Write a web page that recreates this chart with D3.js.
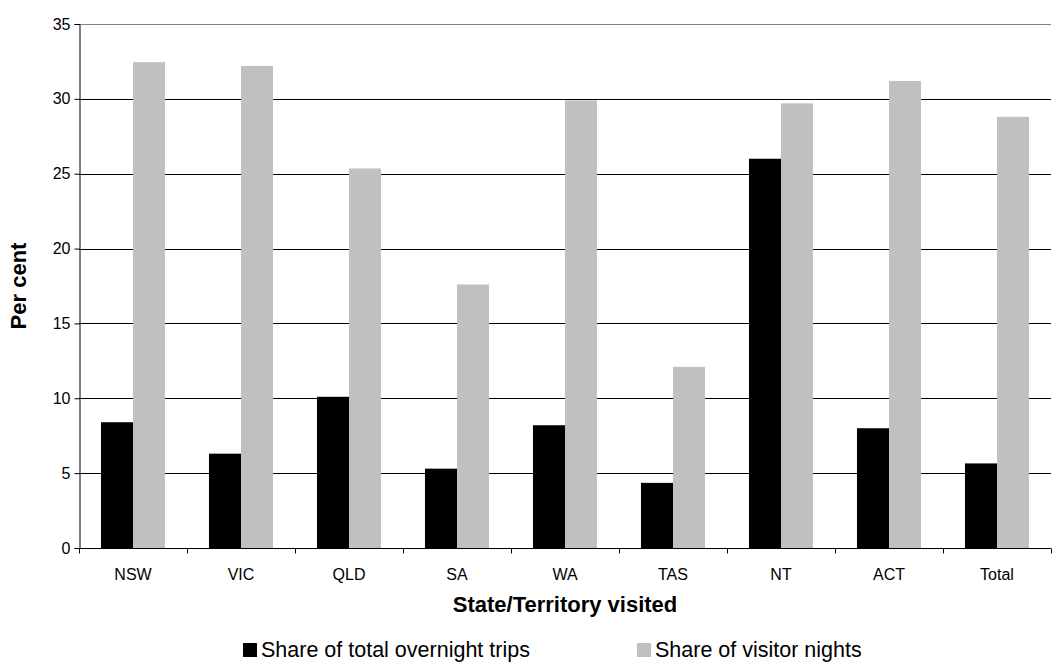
<!DOCTYPE html>
<html>
<head>
<meta charset="utf-8">
<script src="https://cdn.jsdelivr.net/npm/d3@7"></script>
<style>
  html, body { margin: 0; padding: 0; background: #fff; }
  svg { display: block; font-family: "Liberation Sans", Arial, sans-serif; }
</style>
</head>
<body>
<svg id="chart" width="1053" height="662"></svg>
<script>
// Categories and series
const states = ["NSW", "VIC", "QLD", "SA", "WA", "TAS", "NT", "ACT", "Total"];
const tripShare = [8.4, 6.3, 10.1, 5.3, 8.2, 4.35, 26.0, 8.0, 5.65];
const nightShare = [32.45, 32.2, 25.35, 17.6, 29.9, 12.1, 29.7, 31.2, 28.8];
const yTicks = [0, 5, 10, 15, 20, 25, 30, 35];
const seriesNames = ["Share of total overnight trips", "Share of visitor nights"];
const seriesColors = ["#000000", "#c0c0c0"];

const svg = d3.select("#chart");
const plot = { left: 79, right: 1051, top: 24, bottom: 548 };

const x = d3.scaleBand().domain(states).range([plot.left, plot.right])
  .paddingInner(0.407).paddingOuter(0.2035);
const xSub = d3.scaleBand().domain([0, 1]).range([0, x.bandwidth()]);
const y = d3.scaleLinear().domain([0, 35]).range([plot.bottom, plot.top]);

// Horizontal gridlines
svg.append("g").selectAll("line").data(yTicks.filter(t => t > 0)).join("line")
  .attr("x1", plot.left).attr("x2", plot.right)
  .attr("y1", d => Math.round(y(d)) + 0.5).attr("y2", d => Math.round(y(d)) + 0.5)
  .attr("stroke", d => d === 35 ? "#808080" : "#000")
  .attr("stroke-width", 1);

// Bars
const rows = states.map((s, i) => ({ s, v: [tripShare[i], nightShare[i]] }));
const groups = svg.append("g").selectAll("g").data(rows).join("g")
  .attr("transform", d => `translate(${x(d.s)},0)`);
groups.selectAll("rect").data(d => d.v.map((v, k) => ({ v, k }))).join("rect")
  .attr("x", d => xSub(d.k))
  .attr("width", xSub.bandwidth())
  .attr("y", d => y(d.v))
  .attr("height", d => y(0) - y(d.v))
  .attr("fill", d => seriesColors[d.k]);

// Y axis
const yAxis = d3.axisLeft(y).tickValues(yTicks).tickSize(5).tickPadding(4);
const gy = svg.append("g").attr("transform", `translate(${plot.left + 0.5},0)`).call(yAxis);
gy.select(".domain").attr("stroke", "#000");
gy.selectAll(".tick line").attr("stroke", "#000");
gy.selectAll(".tick text").attr("font-size", 16).attr("fill", "#000")
  .attr("font-family", "Liberation Sans, Arial, sans-serif");

// X axis: ticks sit between categories
const gx = svg.append("g").attr("transform", `translate(0,${plot.bottom + 0.5})`);
gx.append("line").attr("x1", plot.left).attr("x2", plot.right)
  .attr("stroke", "#000");
const step = x.step();
const boundaries = d3.range(states.length + 1).map(i => plot.left + i * step);
gx.selectAll("line.tk").data(boundaries).join("line").attr("class", "tk")
  .attr("x1", d => Math.round(d) + 0.5).attr("x2", d => Math.round(d) + 0.5)
  .attr("y1", 0).attr("y2", 5).attr("stroke", "#000");
gx.selectAll("text").data(states).join("text")
  .attr("x", d => x(d) + x.bandwidth() / 2)
  .attr("y", 31)
  .attr("text-anchor", "middle")
  .attr("font-size", 16)
  .text(d => d);

// Axis titles
svg.append("text")
  .attr("x", (plot.left + plot.right) / 2).attr("y", 612)
  .attr("text-anchor", "middle").attr("font-size", 22).attr("font-weight", "bold")
  .text("State/Territory visited");
svg.append("text")
  .attr("transform", `translate(26,${(plot.top + plot.bottom) / 2}) rotate(-90)`)
  .attr("text-anchor", "middle").attr("font-size", 22).attr("font-weight", "bold")
  .text("Per cent");

// Legend
const legendX = [243, 637];
const lg = svg.append("g").selectAll("g").data(seriesNames).join("g")
  .attr("transform", (d, i) => `translate(${legendX[i]},0)`);
lg.append("rect").attr("x", 0).attr("y", 643).attr("width", 14).attr("height", 14)
  .attr("fill", (d, i) => seriesColors[i]);
lg.append("text").attr("x", 18).attr("y", 657).attr("font-size", 21.5).text(d => d);
</script>
</body>
</html>
